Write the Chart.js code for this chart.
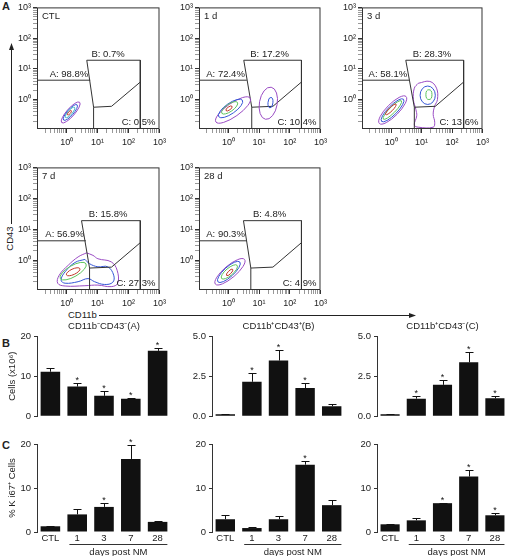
<!DOCTYPE html>
<html>
<head>
<meta charset="utf-8">
<script src="https://cdn.jsdelivr.net/npm/chart.js@4/dist/chart.umd.min.js"></script>
<style>
body { margin: 0; background: #fff; }
#fig { position: relative; width: 511px; height: 556px; overflow: hidden; font-family: "Liberation Sans", Arial, sans-serif; color: #222; }
#fig canvas, #fig svg, .t { position: absolute; }
.t { font-size: 9.5px; white-space: nowrap; }
.p { font-weight: bold; font-size: 11px; }
</style>
</head>
<body>
<div id="fig">
  <svg width="511" height="556" style="left:0;top:0">
    <line x1="11.5" y1="48" x2="11.5" y2="224" stroke="#222" stroke-width="1"/>
    <path d="M9 50 L11.5 43 L14 50 Z" fill="#222"/>
    <line x1="99" y1="315.5" x2="411" y2="315.5" stroke="#222" stroke-width="1"/>
    <path d="M409 313 L416 315.5 L409 318 Z" fill="#222"/>
  </svg>
  <div class="t p" style="left:2px;top:0px">A</div>
  <div class="t p" style="left:2px;top:337px">B</div>
  <div class="t p" style="left:2px;top:439px">C</div>
  <div class="t" style="left:-11px;top:233px;width:40px;text-align:center;transform:rotate(-90deg)">CD43</div>
  <div class="t" style="left:68px;top:309px">CD11b</div>

  <canvas id="fCTL" width="157" height="149" style="left:13px;top:0"></canvas>
  <canvas id="f1d" width="156" height="149" style="left:175px;top:0"></canvas>
  <canvas id="f3d" width="155" height="149" style="left:338px;top:0"></canvas>
  <canvas id="f7d" width="157" height="150" style="left:13px;top:160px"></canvas>
  <canvas id="f28d" width="156" height="150" style="left:175px;top:160px"></canvas>

  <canvas id="bA" width="172" height="109" style="left:1px;top:316px"></canvas>
  <canvas id="bB" width="171" height="109" style="left:176px;top:316px"></canvas>
  <canvas id="bC" width="169" height="109" style="left:341px;top:316px"></canvas>
  <canvas id="cA" width="172" height="132" style="left:1px;top:424px"></canvas>
  <canvas id="cB" width="171" height="132" style="left:176px;top:424px"></canvas>
  <canvas id="cC" width="169" height="132" style="left:341px;top:424px"></canvas>
</div>
<script>
// ---- panel A : flow plots (positions in log10 decades) ----
const flowNames = ['CTL', '1 d', '3 d', '7 d', '28 d'];
const gateA = ['98.8%', '72.4%', '58.1%', '56.9%', '90.3%'];
const gateB = ['0.7%', '17.2%', '28.3%', '15.8%', '4.8%'];
const gateC = ['0.5%', '10.4%', '13.6%', '27.3%', '4.9%'];
const slantTopX = [0.65, 0.5, 0.48, 0.48, 0.49];
const slantBottomX = [0.87, 0.76, 0.76, 0.74, 0.73];
const gateAEndX = [0.76, 0.6, 0.59, 0.62, 0.6];
const gateAY = 0.63, gateTopY = 1.28, gateRightX = 2.38;
const innerBottomY = -0.25, innerMid = [1.45, -0.22], innerRightY = 0.57;
const labelBX = 1.34;
const flowMin = 0.11, flowMax = 1000;
const decadeLabels = { 1: '10⁰', 10: '10¹', 100: '10²', 1000: '10³' };
const flowTicks = [0.1, 1, 10, 100]
    .flatMap(d => [1, 2, 3, 4, 5, 6, 7, 8, 9].map(m => +(m * d).toPrecision(2)))
    .filter(v => v > flowMin).concat(flowMax);

// contour colours: purple, blue, green, red, teal
const ringColors = ['#9a4cc4', '#3556d6', '#5cc45c', '#c0392b', '#3cb4c0'];

// rings: [cx, cy, semi-major, semi-minor, angle deg, colour]
const ringsCTL = [
    [0.13, -0.42, 0.44, 0.13, 49, 0],
    [0.12, -0.42, 0.33, 0.10, 49, 1],
    [0.11, -0.42, 0.22, 0.07, 49, 4],
    [0.09, -0.43, 0.09, 0.035, 49, 3],
];
const rings1d = [
    [0.15, -0.34, 0.68, 0.22, 35, 0],
    [0.07, -0.29, 0.47, 0.17, 35, 1],
    [0.04, -0.27, 0.31, 0.12, 35, 2],
    [0.02, -0.29, 0.12, 0.05, 35, 3],
    [1.30, -0.12, 0.53, 0.29, 80, 0],
    [1.37, -0.10, 0.17, 0.08, 85, 1],
];
const rings3d = [
    [0.05, -0.34, 0.62, 0.20, 45, 0],
    [0.045, -0.35, 0.51, 0.15, 45, 1],
    [0.04, -0.34, 0.42, 0.10, 45, 2],
    [-0.01, -0.32, 0.24, 0.06, 45, 3],
    [1.20, 0.14, 0.30, 0.25, 90, 1],
    [1.24, 0.16, 0.16, 0.10, 90, 2],
];
const rings7d = [
    [0.21, -0.35, 0.48, 0.18, 30, 2],
    [0.21, -0.37, 0.24, 0.09, 25, 3],
];
const rings28d = [
    [0.05, -0.37, 0.62, 0.20, 40, 0],
    [0.015, -0.375, 0.48, 0.16, 42, 1],
    [0.03, -0.375, 0.33, 0.12, 40, 2],
    [0.04, -0.39, 0.14, 0.05, 45, 3],
];
// irregular outer contours
const outline3d = [[0.89, 0.53], [1.27, 0.59], [1.49, 0.37], [1.52, 0], [1.43, -0.21], [1.38, -0.48],
    [1.43, -0.74], [1.38, -0.9], [0.89, -0.9], [0.76, -0.83], [0.84, -0.53], [0.81, -0.32], [0.73, 0], [0.76, 0.37]];
const outline7d = [[0.64, 0.24], [0.85, 0.16], [1.01, 0.05], [1.44, -0.05], [1.63, -0.32], [1.65, -0.74], [1.44, -0.85],
    [1.01, -0.8], [0.59, -0.82], [-0.05, -0.83], [-0.29, -0.74], [-0.24, -0.48], [0.05, -0.16], [0.37, 0.11]];
const inner7d = [[0.59, 0.03], [0.74, -0.11], [1.01, -0.21], [1.33, -0.21], [1.52, -0.48], [1.49, -0.71], [1.22, -0.78],
    [0.9, -0.69], [0.69, -0.59], [0.37, -0.69], [-0.05, -0.74], [-0.18, -0.64], [-0.05, -0.37], [0.27, -0.07]];

// ---- panels B and C : bar charts ----
const days = ['CTL', '1', '3', '7', '28'];
const cellsA = [11.1, 7.4, 5.1, 4.4, 16.3];
const cellsAErr = [0.9, 0.8, 1.2, 0.2, 0.8];
const cellsAStar = [0, 1, 1, 1, 1];
const cellsB = [0.13, 2.15, 3.47, 1.76, 0.63];
const cellsBErr = [0.03, 0.55, 0.67, 0.34, 0.12];
const cellsBStar = [0, 1, 1, 1, 0];
const cellsC = [0.13, 1.1, 1.96, 3.36, 1.12];
const cellsCErr = [0.03, 0.19, 0.3, 0.67, 0.12];
const cellsCStar = [0, 1, 1, 1, 1];
const ki67A = [1.3, 4.0, 5.7, 16.6, 2.3];
const ki67AErr = [0.15, 1.2, 0.85, 3.25, 0.3];
const ki67AStar = [0, 0, 1, 1, 0];
const ki67B = [2.9, 0.9, 2.9, 15.3, 6.1];
const ki67BErr = [1.05, 0.3, 0.75, 0.95, 1.15];
const ki67BStar = [0, 0, 0, 1, 0];
const ki67C = [1.75, 2.65, 6.55, 12.6, 3.8];
const ki67CErr = [0.15, 0.6, 0.15, 1.4, 0.6];
const ki67CStar = [0, 0, 1, 1, 1];

const FONT = '"Liberation Sans", Arial, sans-serif';
Chart.defaults.font.family = FONT;
Chart.defaults.font.size = 9.5;
Chart.defaults.color = '#222';
Chart.defaults.animation = false;
Chart.defaults.plugins.legend.display = false;
Chart.defaults.plugins.tooltip.enabled = false;

const pow = d => Math.pow(10, d);
const toPts = arr => arr.map(([a, b]) => ({ x: pow(a), y: pow(b) }));

function gateLines(i) {
    const lo = Math.log10(flowMin);
    return [
        [[lo, gateAY], [gateAEndX[i], gateAY]],
        [[slantBottomX[i], lo], [slantBottomX[i], innerBottomY], [slantTopX[i], gateTopY], [gateRightX, gateTopY], [gateRightX, lo]],
        [[slantBottomX[i], innerBottomY], innerMid, [gateRightX, innerRightY]],
    ];
}

// draws contour rings, the frame and the gate labels
const flowDecor = (i, rings) => ({
    id: 'flowDecor',
    afterDatasetsDraw(chart) {
        const { ctx, chartArea: a, scales: { x, y } } = chart;
        ctx.save();
        ctx.lineWidth = 1;
        rings.forEach(([cx, cy, ra, rb, ang, c]) => {
            const px = x.getPixelForValue(pow(cx)), py = y.getPixelForValue(pow(cy));
            const kx = x.getPixelForValue(pow(cx + 1)) - px;
            const ky = py - y.getPixelForValue(pow(cy + 1));
            ctx.save();
            ctx.beginPath();
            ctx.translate(px, py);
            ctx.scale(kx, -ky);
            ctx.rotate(ang * Math.PI / 180);
            ctx.ellipse(0, 0, ra, rb, 0, 0, 2 * Math.PI);
            ctx.restore();
            ctx.strokeStyle = ringColors[c];
            ctx.stroke();
        });
        ctx.strokeStyle = '#333';
        ctx.strokeRect(a.left + 0.5, a.top + 0.5, a.width - 1, a.height - 1);

        ctx.fillStyle = '#222';
        ctx.font = '9.5px ' + FONT;
        ctx.textBaseline = 'middle';
        ctx.textAlign = 'left';
        ctx.fillText(flowNames[i], a.left + 5, a.top + 9);
        ctx.textAlign = 'right';
        ctx.fillText('A: ' + gateA[i], x.getPixelForValue(pow(gateAEndX[i])) - 2, y.getPixelForValue(pow(gateAY)) - 6);
        ctx.textAlign = 'center';
        ctx.fillText('B: ' + gateB[i], x.getPixelForValue(pow(labelBX)), y.getPixelForValue(pow(gateTopY)) - 6);
        ctx.textAlign = 'right';
        ctx.fillText('C: ' + gateC[i], a.right - 4, a.bottom - 7);
        ctx.restore();
    },
});

function flowAxis(pos) {
    return {
        type: 'logarithmic',
        position: pos,
        min: flowMin,
        max: flowMax,
        afterBuildTicks: s => { s.ticks = flowTicks.map(v => ({ value: v })); },
        afterFit: s => { if (pos === 'left') s.width = 24; else s.height = 20; },
        ticks: { autoSkip: false, maxRotation: 0, padding: pos === 'left' ? 2 : 4, font: { size: 9 },
                 callback: v => decadeLabels[v] || '' },
        grid: { drawOnChartArea: false, tickLength: 4,
                color: c => (c.tick && decadeLabels[c.tick.value]) ? '#333' : '#999' },
        border: { display: false },
    };
}

function makeFlow(id, i, rings, shapes) {
    const datasets = gateLines(i).map(pts => ({ data: toPts(pts), borderColor: '#333', tension: 0 }))
        .concat(shapes.map(([pts, c]) => ({ data: toPts(pts.concat([pts[0]])), borderColor: ringColors[c], tension: 0.4 })));
    datasets.forEach(d => Object.assign(d, { showLine: true, pointRadius: 0, borderWidth: 1, fill: false }));
    new Chart(document.getElementById(id), {
        type: 'scatter',
        data: { datasets },
        options: {
            responsive: false,
            layout: { padding: { top: 6, right: 8, left: 0, bottom: 0 } },
            scales: { x: flowAxis('bottom'), y: flowAxis('left') },
        },
        plugins: [flowDecor(i, rings)],
    });
}

makeFlow('fCTL', 0, ringsCTL, []);
makeFlow('f1d', 1, rings1d, []);
makeFlow('f3d', 2, rings3d, [[outline3d, 0]]);
makeFlow('f7d', 3, rings7d, [[outline7d, 0], [inner7d, 1]]);
makeFlow('f28d', 4, rings28d, []);

// error bars, significance stars, titles, "days post NM"
const barDecor = (values, errs, stars, cfg) => ({
    id: 'barDecor',
    afterDatasetsDraw(chart) {
        const { ctx, chartArea: a, scales: { y } } = chart;
        const bars = chart.getDatasetMeta(0).data;
        ctx.save();
        ctx.strokeStyle = '#111';
        ctx.fillStyle = '#111';
        ctx.lineWidth = 1;
        bars.forEach((bar, i) => {
            const top = Math.round(y.getPixelForValue(values[i] + errs[i])) + 0.5;
            const cx = Math.round(bar.x) + 0.5;
            ctx.beginPath();
            ctx.moveTo(cx, bar.y);
            ctx.lineTo(cx, top);
            ctx.moveTo(cx - 4, top);
            ctx.lineTo(cx + 4, top);
            ctx.stroke();
            if (stars[i]) {
                ctx.font = '9px ' + FONT;
                ctx.textAlign = 'center';
                ctx.textBaseline = 'alphabetic';
                ctx.fillText('*', bar.x, top - 1);
            }
        });
        ctx.fillStyle = '#222';
        ctx.font = '9.5px ' + FONT;
        ctx.textAlign = 'center';
        ctx.textBaseline = 'middle';
        if (cfg.title) ctx.fillText(cfg.title, (a.left + a.right) / 2, a.top - 10);
        if (cfg.xLabels) {
            const l = bars[1].x - bars[1].width / 2 + 2, r = bars[4].x + bars[4].width / 2;
            const ly = Math.round(a.bottom + 12) + 0.5;
            ctx.strokeStyle = '#333';
            ctx.beginPath();
            ctx.moveTo(l, ly);
            ctx.lineTo(r, ly);
            ctx.stroke();
            ctx.fillText('days post NM', (l + r) / 2, a.bottom + 20);
        }
        ctx.restore();
    },
});

function makeBars(id, values, errs, stars, cfg) {
    new Chart(document.getElementById(id), {
        type: 'bar',
        data: {
            labels: days,
            datasets: [{ data: values, backgroundColor: '#111', borderWidth: 0, barPercentage: 0.73, categoryPercentage: 1 }],
        },
        options: {
            responsive: false,
            layout: { padding: { top: 20, right: 2, left: 0, bottom: cfg.xLabels ? 0 : 2 } },
            scales: {
                x: {
                    grid: { display: false, drawTicks: false },
                    border: { display: false },
                    ticks: { display: !!cfg.xLabels, padding: 1, maxRotation: 0, autoSkip: false },
                    afterFit: s => { s.height = cfg.xLabels ? 24 : 0; },
                },
                y: {
                    min: 0,
                    max: cfg.max,
                    ticks: { stepSize: cfg.step, padding: 3, callback: v => v.toFixed(cfg.dec) },
                    grid: { drawOnChartArea: false, tickLength: 3, color: '#333' },
                    border: { display: true, color: '#333' },
                    title: { display: !!cfg.yTitle, text: cfg.yTitle, padding: { top: 6, bottom: 0 }, font: { size: 9.5 } },
                    afterFit: s => { s.width = 36; },
                },
            },
        },
        plugins: [barDecor(values, errs, stars, cfg)],
    });
}

makeBars('bA', cellsA, cellsAErr, cellsAStar, { max: 20, step: 10, dec: 0, yTitle: 'Cells (x10⁶)', title: 'CD11b⁻CD43⁻(A)' });
makeBars('bB', cellsB, cellsBErr, cellsBStar, { max: 5, step: 2.5, dec: 1, title: 'CD11b⁺CD43⁺(B)' });
makeBars('bC', cellsC, cellsCErr, cellsCStar, { max: 5, step: 2.5, dec: 1, title: 'CD11b⁺CD43⁻(C)' });
makeBars('cA', ki67A, ki67AErr, ki67AStar, { max: 20, step: 10, dec: 0, yTitle: '% K i67⁺ Cells', xLabels: true });
makeBars('cB', ki67B, ki67BErr, ki67BStar, { max: 20, step: 10, dec: 0, xLabels: true });
makeBars('cC', ki67C, ki67CErr, ki67CStar, { max: 20, step: 10, dec: 0, xLabels: true });
</script>
</body>
</html>
